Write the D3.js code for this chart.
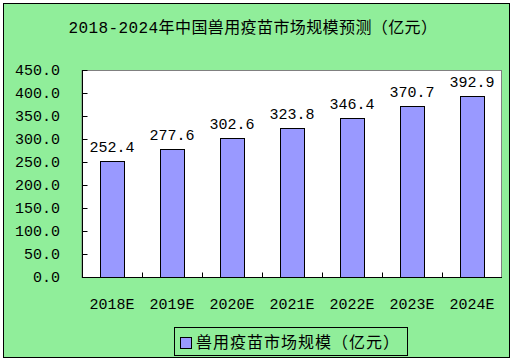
<!DOCTYPE html>
<html>
<head>
<meta charset="utf-8">
<script src="https://cdn.jsdelivr.net/npm/d3@7"></script>
<style>
    body { margin: 0; background: #fff; }
    svg text { font-family: "Liberation Mono", "Noto Sans CJK SC", monospace; fill: #000; }
</style>
</head>
<body>
<div id="chart"></div>
<script>
    // Data
    var years = ["2018E", "2019E", "2020E", "2021E", "2022E", "2023E", "2024E"];
    var values = [252.4, 277.6, 302.6, 323.8, 346.4, 370.7, 392.9];
    var yTicks = [0, 50, 100, 150, 200, 250, 300, 350, 400, 450];
    var title = "2018-2024年中国兽用疫苗市场规模预测（亿元）";
    var seriesName = "兽用疫苗市场规模（亿元）";

    var W = 513, H = 360;
    var plot = { left: 82, top: 70, right: 502, bottom: 277 };

    var svg = d3.select("#chart").append("svg")
        .attr("width", W)
        .attr("height", H);

    // Chart area
    svg.append("rect")
        .attr("x", 3.5).attr("y", 3.5)
        .attr("width", 506).attr("height", 354)
        .attr("fill", "#90EE9A")
        .attr("stroke", "#000");

    svg.append("text")
        .attr("x", 253).attr("y", 33)
        .attr("text-anchor", "middle")
        .style("font-size", "16px")
        .style("letter-spacing", "0.4px")
        .text(title);

    // Plot area
    svg.append("rect")
        .attr("x", plot.left).attr("y", plot.top + 0.5)
        .attr("width", plot.right - plot.left - 0.5).attr("height", plot.bottom - plot.top)
        .attr("fill", "#fff")
        .attr("stroke", "#808080");

    var x = d3.scaleBand()
        .domain(years)
        .range([plot.left, plot.right])
        .paddingInner(0.6)
        .paddingOuter(0.3);

    var y = d3.scaleLinear()
        .domain([0, 450])
        .range([plot.bottom, plot.top]);

    // Bars
    svg.append("g").selectAll("rect")
        .data(values)
        .enter()
        .append("rect")
        .attr("x", function(d, i) { return Math.round(x(years[i])) + 0.5; })
        .attr("y", function(d) { return Math.round(y(d)) + 0.5; })
        .attr("width", Math.round(x.bandwidth()))
        .attr("height", function(d) { return plot.bottom - Math.round(y(d)); })
        .attr("fill", "#9999FF")
        .attr("stroke", "#000");

    // Value labels
    svg.append("g").selectAll("text")
        .data(values)
        .enter()
        .append("text")
        .attr("x", function(d, i) { return x(years[i]) + x.bandwidth() / 2; })
        .attr("y", function(d) { return y(d) - 9; })
        .attr("text-anchor", "middle")
        .style("font-size", "15px")
        .text(function(d) { return d.toFixed(1); });

    // Y axis (ticks inside)
    var yAxis = d3.axisRight(y)
        .tickValues(yTicks)
        .tickSize(5)
        .tickFormat("");
    svg.append("g")
        .attr("transform", "translate(" + (plot.left + 0.5) + ",0)")
        .call(yAxis)
        .call(function(g) {
            g.select(".domain").attr("stroke", "#000").attr("d", "M0," + plot.top + "V" + plot.bottom);
        });

    svg.append("g").selectAll("text")
        .data(yTicks)
        .enter()
        .append("text")
        .attr("x", 60)
        .attr("y", function(d) { return y(d); })
        .attr("dy", "0.36em")
        .attr("text-anchor", "end")
        .style("font-size", "15px")
        .text(function(d) { return d.toFixed(1); });

    // X axis: category boundary ticks pointing up
    var xAxis = d3.axisBottom(x).tickSize(0).tickFormat("");
    var gx = svg.append("g")
        .attr("transform", "translate(0," + (plot.bottom + 0.5) + ")")
        .call(xAxis);
    gx.select(".domain").attr("stroke", "#000").attr("d", "M" + plot.left + ",0H" + plot.right);
    gx.selectAll(".tick").remove();
    gx.selectAll("line.sep")
        .data(years.slice(1))
        .enter()
        .append("line")
        .attr("class", "sep")
        .attr("x1", function(d) { return Math.round(x(d) - x.step() * x.paddingInner() / 2) + 0.5; })
        .attr("x2", function(d) { return Math.round(x(d) - x.step() * x.paddingInner() / 2) + 0.5; })
        .attr("y1", 0).attr("y2", -5)
        .attr("stroke", "#000");

    svg.append("g").selectAll("text")
        .data(years)
        .enter()
        .append("text")
        .attr("x", function(d) { return x(d) + x.bandwidth() / 2; })
        .attr("y", 309)
        .attr("text-anchor", "middle")
        .style("font-size", "15px")
        .text(function(d) { return d; });

    // Legend
    var legend = svg.append("g");
    legend.append("rect")
        .attr("x", 174.5).attr("y", 327.5)
        .attr("width", 233).attr("height", 28)
        .attr("fill", "none")
        .attr("stroke", "#000");
    legend.append("rect")
        .attr("x", 180.5).attr("y", 337.5)
        .attr("width", 11).attr("height", 11)
        .attr("fill", "#9999FF")
        .attr("stroke", "#000");
    legend.append("text")
        .attr("x", 196).attr("y", 348)
        .style("font-size", "16px")
        .style("letter-spacing", "1px")
        .text(seriesName);
</script>
</body>
</html>
